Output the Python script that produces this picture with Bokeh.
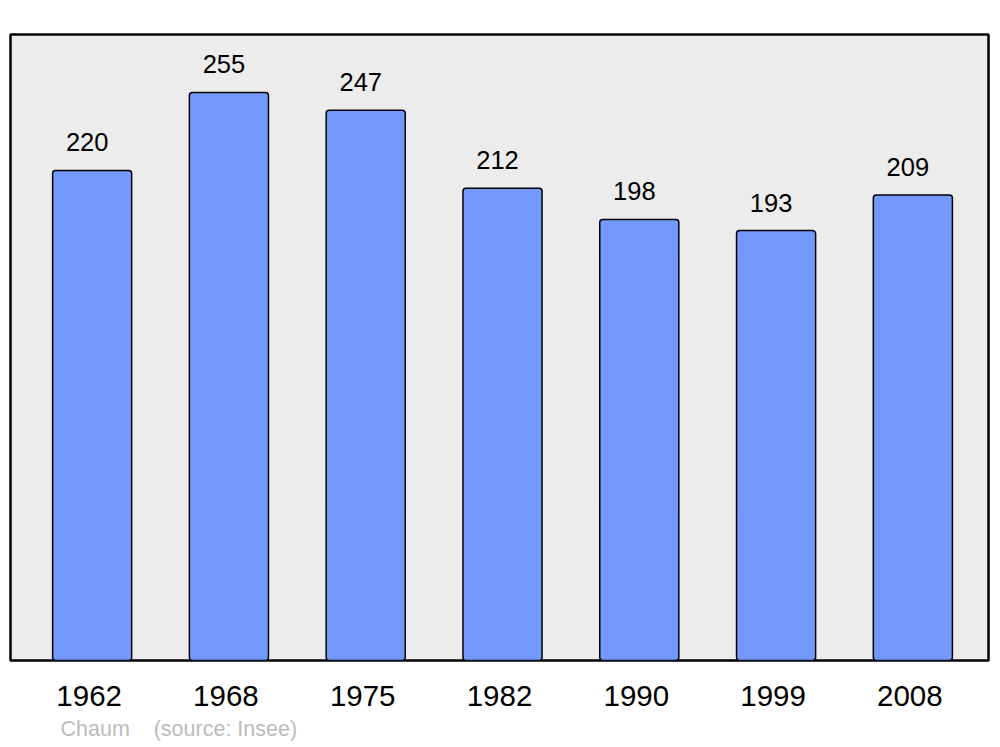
from bokeh.plotting import figure
from bokeh.models import ColumnDataSource, FactorRange, Range1d, Title
from bokeh.transform import dodge
from bokeh.core.properties import value
from bokeh.embed import file_html
from bokeh.resources import INLINE

years = ["1962", "1968", "1975", "1982", "1990", "1999", "2008"]
population = [220, 255, 247, 212, 198, 193, 209]
labels = [str(v) for v in population]
caption = "Chaum\u00a0\u00a0\u00a0 (source: Insee)"

src = ColumnDataSource(dict(x=years, top=population, label=labels))

xr = FactorRange(*years, range_padding=0.0214)
p = figure(width=992, height=746, output_backend="svg", toolbar_location=None,
           x_range=xr, y_range=Range1d(0, 281),
           min_border_left=10, min_border_right=4, min_border_top=34, min_border_bottom=86)

p.background_fill_color = "#ececec"
p.border_fill_color = "white"
p.outline_line_color = "black"
p.outline_line_width = 2.5
p.outline_line_alpha = 1
p.grid.visible = False
p.yaxis.visible = False

p.vbar(x=dodge("x", 0.022, range=xr), top="top", bottom=0, width=0.578, source=src,
       fill_color="#7399ff", line_color="black", line_width=1.5, border_radius=3)

p.text(x=dodge("x", 0.022, range=xr), y="top", text="label", source=src, x_offset=-5, y_offset=-19,
       text_align="center", text_baseline="bottom", text_font=value("Liberation Sans"),
       text_font_size="25.5px", text_color="black")

ax = p.xaxis[0]
ax.axis_line_color = None
ax.major_tick_line_color = None
ax.minor_tick_line_color = None
ax.major_label_text_font = "Liberation Sans"
ax.major_label_text_font_size = "29.5px"
ax.major_label_text_color = "black"
ax.major_label_standoff = 19

cap = Title(text=caption, align="left", offset=50, vertical_align="bottom",
            text_font="Liberation Sans", text_font_size="21.5px", text_font_style="normal",
            text_color="#bbbbbb", standoff=12, text_line_height=0.8)
p.add_layout(cap, "below")

open("out.html", "w").write(file_html(p, INLINE))
